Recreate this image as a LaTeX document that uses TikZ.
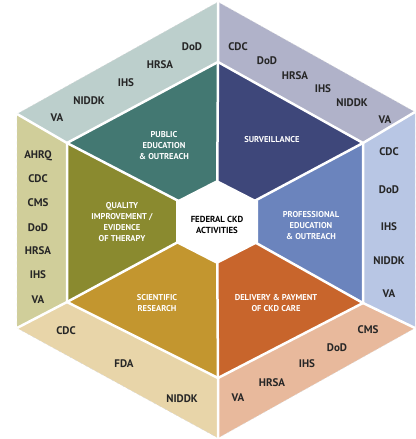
\documentclass[tikz,border=0pt]{standalone}
\usepackage{fontspec}
\setmainfont{PT Sans}
\definecolor{tlband}{HTML}{BCCFCC}
\definecolor{trband}{HTML}{B0B2C9}
\definecolor{rband}{HTML}{B8C6E4}
\definecolor{brband}{HTML}{E8B99C}
\definecolor{blband}{HTML}{E8D5A9}
\definecolor{lband}{HTML}{D0CE9A}
\definecolor{pubcol}{HTML}{437872}
\definecolor{survcol}{HTML}{3E477A}
\definecolor{profcol}{HTML}{6B84BD}
\definecolor{delcol}{HTML}{C8652C}
\definecolor{scicol}{HTML}{C3962F}
\definecolor{qualcol}{HTML}{8A8A2F}
\tikzset{
  agency/.style={font=\fontsize{11}{13}\selectfont\bfseries, text=black!85},
  activity/.style={font=\fontsize{8.5}{11}\selectfont\bfseries, text=white, align=center},
  divider/.style={draw=white, line width=2.5pt, line join=round}
}
\begin{document}
\begin{tikzpicture}[x=1pt,y=-1pt]
\useasboundingbox (0,0) rectangle (415,439);
% outer and inner corners
\coordinate (OT) at (218,2);
\coordinate (OUR) at (415,112);
\coordinate (OLR) at (415,328);
\coordinate (OB) at (218,438);
\coordinate (OLL) at (17,328);
\coordinate (OUL) at (17,114);
\coordinate (IT) at (218,62);
\coordinate (IUR) at (363,143);
\coordinate (ILR) at (363,303);
\coordinate (IB) at (218,378);
\coordinate (ILL) at (67,302);
\coordinate (IUL) at (67,143);
\coordinate (C) at (217,221);
% outer bands
\fill[tlband] (OUL)--(OT)--(IT)--(IUL)--cycle;
\fill[trband] (OT)--(OUR)--(IUR)--(IT)--cycle;
\fill[rband] (OUR)--(OLR)--(ILR)--(IUR)--cycle;
\fill[brband] (OLR)--(OB)--(IB)--(ILR)--cycle;
\fill[blband] (OB)--(OLL)--(ILL)--(IB)--cycle;
\fill[lband] (OLL)--(OUL)--(IUL)--(ILL)--cycle;
% activity triangles
\fill[pubcol] (C)--(IUL)--(IT)--cycle;
\fill[survcol] (C)--(IT)--(IUR)--cycle;
\fill[profcol] (C)--(IUR)--(ILR)--cycle;
\fill[delcol] (C)--(ILR)--(IB)--cycle;
\fill[scicol] (C)--(IB)--(ILL)--cycle;
\fill[qualcol] (C)--(ILL)--(IUL)--cycle;
% white lines
\draw[black!15, dashed, line width=0.4pt] (OT)--(OUR)--(OLR)--(OB)--(OLL)--(OUL)--cycle;
\draw[divider] (IT)--(IUR)--(ILR)--(IB)--(ILL)--(IUL)--cycle;
\draw[divider] (OT)--(IT) (OUR)--(IUR) (OLR)--(ILR) (OB)--(IB) (OLL)--(ILL) (OUL)--(IUL);
\draw[divider] (C)--(IT) (C)--(IUR) (C)--(ILR) (C)--(IB) (C)--(ILL) (C)--(IUL);
\fill[white] (217,180)--(258,201)--(258,243)--(217,264)--(176,243)--(176,201)--cycle;
\node[font=\fontsize{8.8}{10.5}\selectfont\bfseries, align=center] (fed) at (217,225) {FEDERAL CKD\\ACTIVITIES};
% activities
\node[activity] (pub) at (164,146) {PUBLIC\\EDUCATION\\\& OUTREACH};
\node[activity] (surv) at (272,140) {SURVEILLANCE};
\node[activity] (prof) at (311,226) {PROFESSIONAL\\EDUCATION\\\& OUTREACH};
\node[activity] (deliv) at (276,303) {DELIVERY \& PAYMENT\\OF CKD CARE};
\node[activity] (sci) at (157,303) {SCIENTIFIC\\RESEARCH};
\node[activity] (qual) at (122,222) {QUALITY\\IMPROVEMENT /\\EVIDENCE\\OF THERAPY};
% agencies, top left
\node[agency] (tl1) at (192,47) {DoD};
\node[agency] (tl2) at (160,65) {HRSA};
\node[agency] (tl3) at (126,83) {IHS};
\node[agency] (tl4) at (89,101) {NIDDK};
\node[agency] (tl5) at (57,118) {VA};
% top right
\node[agency] (tr1) at (238,47) {CDC};
\node[agency] (tr2) at (267,61) {DoD};
\node[agency] (tr3) at (295,76) {HRSA};
\node[agency] (tr4) at (323,89) {IHS};
\node[agency] (tr5) at (352,103) {NIDDK};
\node[agency] (tr6) at (385,120) {VA};
% right
\node[agency] (r1) at (389,152) {CDC};
\node[agency] (r2) at (389,190) {DoD};
\node[agency] (r3) at (389,227) {IHS};
\node[agency] (r4) at (389,261) {NIDDK};
\node[agency] (r5) at (389,294) {VA};
% bottom right
\node[agency] (br1) at (368,330) {CMS};
\node[agency] (br2) at (337,348) {DoD};
\node[agency] (br3) at (307,364) {IHS};
\node[agency] (br4) at (272,383) {HRSA};
\node[agency] (br5) at (238,398) {VA};
% bottom left
\node[agency] (bl1) at (66,331) {CDC};
\node[agency] (bl2) at (124,364) {FDA};
\node[agency] (bl3) at (182,399) {NIDDK};
% left
\node[agency] (l1) at (38,156) {AHRQ};
\node[agency] (l2) at (38,179) {CDC};
\node[agency] (l3) at (38,203) {CMS};
\node[agency] (l4) at (38,228) {DoD};
\node[agency] (l5) at (38,251) {HRSA};
\node[agency] (l6) at (38,275) {IHS};
\node[agency] (l7) at (38,300) {VA};
\end{tikzpicture}
\end{document}
